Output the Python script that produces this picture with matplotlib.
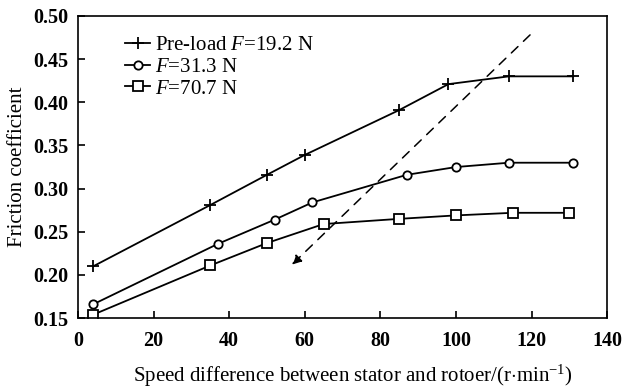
import matplotlib
matplotlib.use("Agg")
import matplotlib.pyplot as plt

x1 = [4, 35, 50, 60, 85, 98, 114, 131]
y1 = [0.210, 0.281, 0.316, 0.339, 0.391, 0.421, 0.430, 0.430]
x2 = [4, 37, 52, 62, 87, 100, 114, 131]
y2 = [0.166, 0.236, 0.264, 0.284, 0.316, 0.325, 0.330, 0.330]
x3 = [4, 35, 50, 65, 85, 100, 115, 130]
y3 = [0.154, 0.211, 0.237, 0.259, 0.265, 0.269, 0.272, 0.272]
labels = ["Pre-load $F$=19.2 N", "$F$=31.3 N", "$F$=70.7 N"]
arrow_start = (119.6, 0.478)
arrow_end = (56.6, 0.212)

plt.rcParams['font.family'] = ['Liberation Serif', 'DejaVu Serif']
plt.rcParams['mathtext.fontset'] = 'custom'
plt.rcParams['mathtext.it'] = 'Liberation Serif:italic'
plt.rcParams['mathtext.rm'] = 'Liberation Serif'

fig = plt.figure(figsize=(6.24, 3.88), dpi=100)
ax = fig.add_axes([0.125, 0.180, 0.848, 0.779])

ax.plot(x1, y1, color='black', lw=1.3, marker='+', ms=8, mew=1.3, label=labels[0])
ax.plot(x2, y2, color='black', lw=1.3, marker='o', ms=6, mfc='white', mew=1.3, label=labels[1])
ax.plot(x3, y3, color='black', lw=1.3, marker='s', ms=7, mfc='white', mew=1.3, label=labels[2])

ax.annotate('', xy=arrow_end, xytext=arrow_start,
            arrowprops=dict(arrowstyle='-|>', color='black', lw=1.1, linestyle=(0, (6, 5)),
                            mutation_scale=14, shrinkA=0, shrinkB=0))

ax.set_xlim(0, 140)
ax.set_ylim(0.15, 0.50)
ax.set_xticks(range(0, 141, 20))
ax.set_yticks([0.15, 0.20, 0.25, 0.30, 0.35, 0.40, 0.45, 0.50])
ax.set_yticklabels([f"{v:.2f}" for v in [0.15, 0.20, 0.25, 0.30, 0.35, 0.40, 0.45, 0.50]])
ax.tick_params(direction='in', length=5, width=1.2, labelsize=14.5)
ax.tick_params(axis='x', pad=9)
ax.tick_params(axis='y', pad=7)
for lab in ax.get_xticklabels() + ax.get_yticklabels():
    lab.set_fontweight('bold')
for s in ax.spines.values():
    s.set_linewidth(1.2)

ax.set_xlabel("Speed difference between stator and rotoer/(r$\\cdot$min$^{-1}$)", fontsize=15)
ax.xaxis.set_label_coords(0.52, -0.148)
ax.set_ylabel("Friction coefficient", fontsize=15, labelpad=4)

leg = ax.legend(loc='upper left', bbox_to_anchor=(0.074, 0.962), frameon=False, fontsize=15,
                handlelength=1.2, handletextpad=0.2, labelspacing=0.1, borderaxespad=0)

fig.savefig("out.png", dpi=100)
